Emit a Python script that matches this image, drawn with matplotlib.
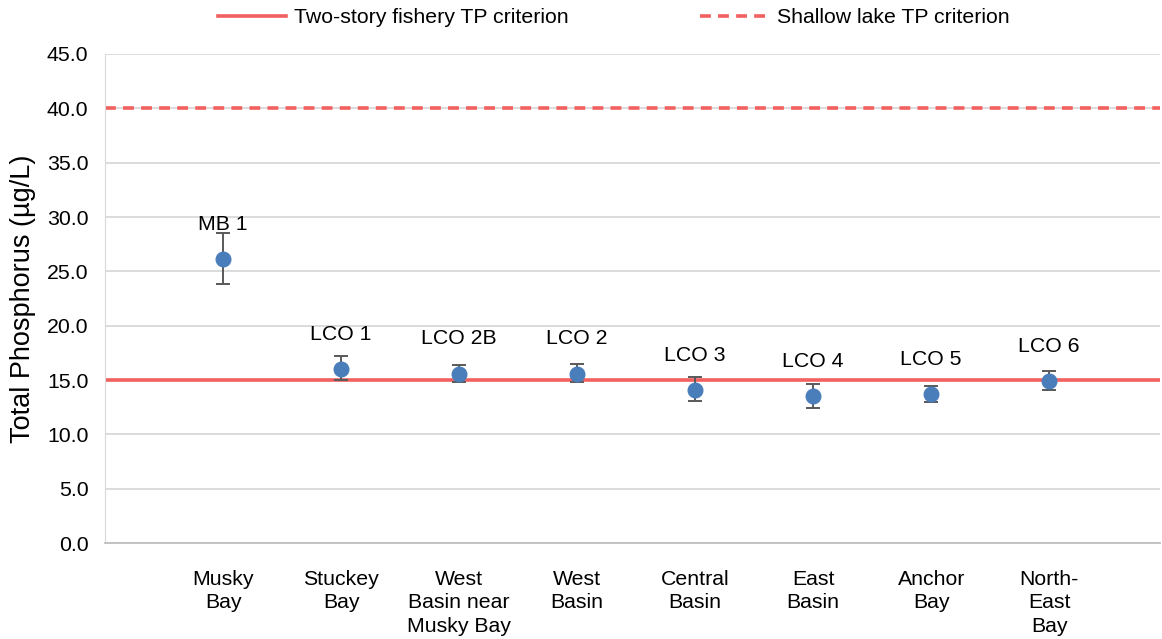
import matplotlib.pyplot as plt

plt.rcParams['font.family'] = ['Liberation Sans', 'DejaVu Sans']

# data
sites = ["Musky\nBay", "Stuckey\nBay", "West\nBasin near\nMusky Bay", "West\nBasin",
         "Central\nBasin", "East\nBasin", "Anchor\nBay", "North-\nEast\nBay"]
station = ["MB 1", "LCO 1", "LCO 2B", "LCO 2", "LCO 3", "LCO 4", "LCO 5", "LCO 6"]
tp_mean = [26.1, 16.0, 15.6, 15.6, 14.1, 13.5, 13.7, 14.9]
err_hi = [28.5, 17.2, 16.4, 16.45, 15.25, 14.6, 14.5, 15.8]
err_lo = [23.8, 15.0, 14.85, 14.8, 13.1, 12.4, 12.95, 14.05]
two_story = 15.0
shallow = 40.0

x = list(range(1, len(sites) + 1))
yerr = [[m - lo for m, lo in zip(tp_mean, err_lo)],
        [hi - m for m, hi in zip(tp_mean, err_hi)]]

fs = 15.3

fig = plt.figure(figsize=(11.62, 6.39), dpi=100)
ax = fig.add_axes([0.0904, 0.150, 0.908, 0.7655])

ax.set_ylim(0, 45)
ax.set_xlim(0, 8.94)
ax.set_yticks([i * 5 for i in range(10)])
ax.set_yticklabels([f"{i * 5:.1f}" for i in range(10)], fontsize=fs)
ax.grid(axis='y', color='#d9d9d9', linewidth=1.3)
ax.set_axisbelow(True)
for s in ['top', 'right']:
    ax.spines[s].set_visible(False)
ax.spines['left'].set_color('#d9d9d9')
ax.spines['bottom'].set_color('#bfbfbf')
ax.spines['bottom'].set_linewidth(1.3)
ax.tick_params(axis='y', length=0, pad=12)
ax.tick_params(axis='x', length=0, pad=19)
ax.set_xticks(x)
ax.set_xticklabels(sites, fontsize=fs, linespacing=1.32)

l1 = ax.axhline(two_story, color='#f26060', linewidth=2.6, zorder=2,
                label="Two-story fishery TP criterion")
l2 = ax.axhline(shallow, color='#f26060', linewidth=2.6, linestyle=(0, (3, 2)), zorder=2,
                label="Shallow lake TP criterion")

ax.errorbar(x, tp_mean, yerr=yerr, fmt='o', color='#4a7ebb', markersize=10.5,
            ecolor='#595959', elinewidth=1.4, capsize=5, capthick=1.4, zorder=3)

for xi, yi, s in zip(x, tp_mean, station):
    ax.annotate(s, (xi, yi), xytext=(0, 25), textcoords='offset points',
                ha='center', va='center', fontsize=fs)

ax.set_ylabel("Total Phosphorus (µg/L)", fontsize=19.5, labelpad=8)

fig.legend(handles=[l1, l2], loc='center', bbox_to_anchor=(0.528, 0.972), ncol=2,
           frameon=False, fontsize=fs, handlelength=3.2, handletextpad=0.4,
           columnspacing=6.2)

fig.savefig("out.png", dpi=100)
